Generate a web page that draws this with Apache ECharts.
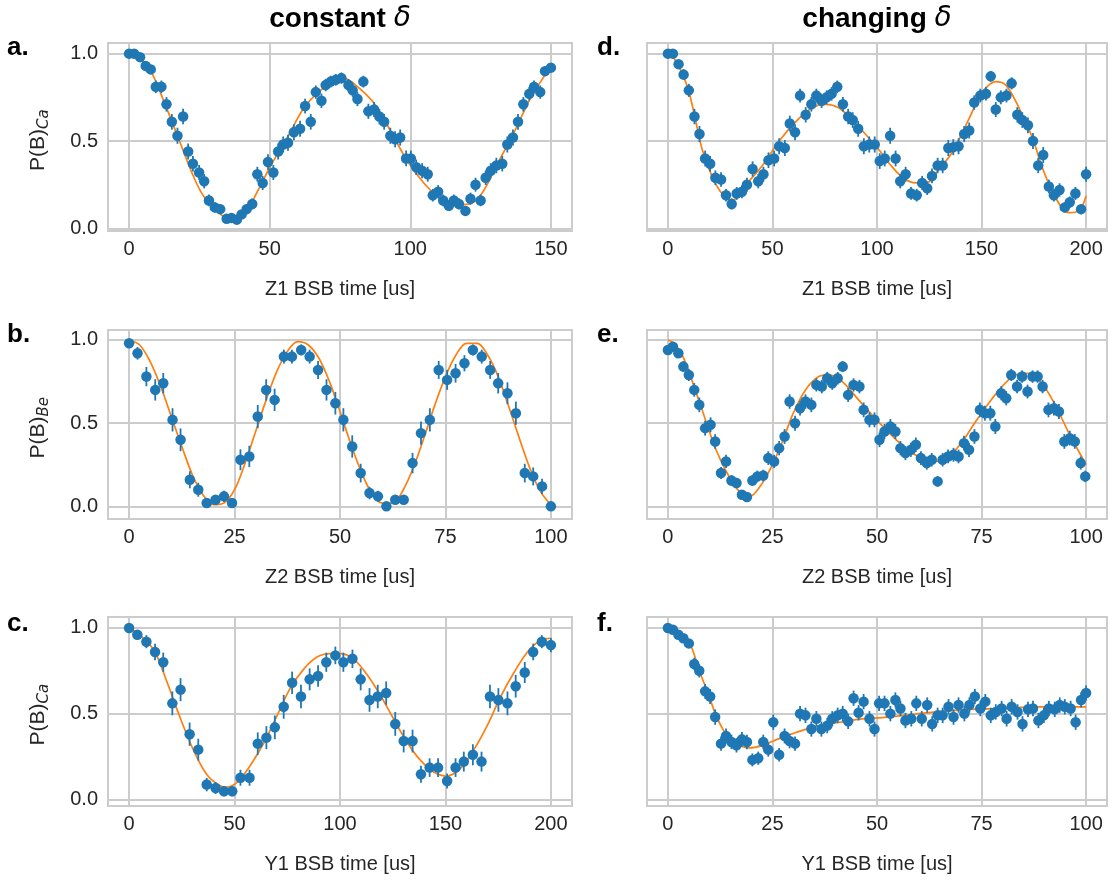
<!DOCTYPE html>
<html><head><meta charset="utf-8">
<script src="https://cdn.jsdelivr.net/npm/echarts@6/dist/echarts.min.js"></script>
<style>html,body{margin:0;padding:0;background:#fff}#c{width:1117px;height:882px}</style>
</head><body><div id="c"></div>
<script>
// ---------- data ----------
const xTicksA = [0, 50, 100, 150];
const xTicksB = [0, 25, 50, 75, 100];
const xTicksC = [0, 50, 100, 150, 200];
const yTicks = [0, 0.5, 1.0];

const aX = [0,1.8,3.9,5.9,7.7,9.5,11.5,13.3,15.2,17.2,19.2,21,22.7,24.9,26.7,28.4,30.5,32.4,34.7,36.4,38.3,40,41.8,43.8,45.6,47.5,49.4,51.3,53,54.8,56.5,58.6,60.8,62.6,64.6,66.4,68.4,69.9,71.7,73.5,75.5,78,79.5,81.2,83.3,85.1,87.1,89,90.7,92.9,94.6,96.4,98.5,100.2,102.1,104.2,106.2,108,109.9,111.7,113.7,115.5,117.3,119.6,121.4,123.2,125,126.8,128.6,130.6,132.7,134.5,136.5,138.3,140.2,142.3,144,146.2,147.9,150];
const aY = [1.0,1.0,0.98,0.93,0.91,0.81,0.81,0.71,0.61,0.53,0.64,0.44,0.37,0.32,0.27,0.16,0.12,0.11,0.055,0.06,0.05,0.08,0.11,0.14,0.31,0.26,0.38,0.32,0.44,0.48,0.49,0.55,0.57,0.70,0.61,0.78,0.73,0.82,0.84,0.85,0.86,0.82,0.79,0.74,0.84,0.67,0.68,0.64,0.61,0.53,0.51,0.52,0.40,0.40,0.35,0.33,0.31,0.19,0.21,0.16,0.13,0.16,0.14,0.10,0.17,0.25,0.16,0.29,0.33,0.36,0.37,0.48,0.52,0.61,0.71,0.77,0.81,0.78,0.90,0.92];
const fitAX = [0,4,7.7,11.3,17.2,23.1,26.7,32.6,36,40.9,45.6,50.4,56.3,62.2,68.1,74.1,76,79.8,86.9,92.9,98.8,104.8,110.7,117,120.2,125,131,136.9,142.9,148.8,150];
const fitAY = [1.0,0.97,0.9,0.77,0.53,0.29,0.18,0.08,0.048,0.08,0.21,0.36,0.52,0.69,0.79,0.85,0.86,0.83,0.72,0.56,0.39,0.26,0.17,0.135,0.137,0.19,0.37,0.55,0.75,0.90,0.93];

const dX = [0,2.4,5.1,7.5,10,12.7,15.1,17.8,20.2,22.7,25.4,27.8,30.5,32.9,35.4,37.8,40.5,43.2,45.7,48.1,50.8,53.2,55.9,58.3,60.8,63.2,65.9,68.6,71,73.5,75.9,78.3,81,83.7,86.2,88.4,91,93.7,96.3,98.9,101.3,103.7,106.3,108.9,111.1,113.7,116.3,119,121.6,124,126.3,129,131.4,134.1,136.5,139,141.7,144.1,146.5,149.4,152.1,154.4,156.8,159.2,161.9,164.4,167.1,169.5,172.2,174.6,177.1,179.5,182.2,184.6,187.3,189.8,192.2,194.9,197.6,200];
const dY = [1.0,1.0,0.94,0.88,0.79,0.64,0.54,0.40,0.37,0.29,0.28,0.19,0.14,0.20,0.21,0.25,0.34,0.27,0.31,0.39,0.40,0.47,0.46,0.60,0.55,0.76,0.65,0.71,0.76,0.73,0.75,0.77,0.81,0.71,0.64,0.62,0.57,0.47,0.48,0.48,0.385,0.40,0.53,0.40,0.27,0.31,0.20,0.19,0.26,0.23,0.30,0.36,0.36,0.46,0.465,0.47,0.54,0.56,0.72,0.76,0.77,0.87,0.68,0.75,0.76,0.83,0.65,0.62,0.59,0.50,0.36,0.42,0.24,0.19,0.22,0.12,0.15,0.20,0.11,0.31];
const fitDX = [0,2.5,5,7.5,10.3,13,16.7,23,27.8,31,37.3,45.2,53.2,61.1,69,75.4,81.7,88.1,94.4,101.6,106,112.4,118.7,123.5,129.8,136.2,144.1,150.5,156.8,161.6,167.9,174.3,179,185.4,191.7,196.5,200];
const fitDY = [1.0,0.98,0.93,0.87,0.77,0.63,0.44,0.25,0.175,0.163,0.25,0.36,0.50,0.61,0.69,0.71,0.69,0.62,0.54,0.44,0.37,0.29,0.26,0.26,0.34,0.44,0.63,0.78,0.84,0.82,0.69,0.52,0.35,0.175,0.09,0.10,0.185];

const bX = [0,2,4.1,6.2,8.1,10.3,12.2,14.4,16.4,18.4,20.5,22.5,24.4,26.4,28.5,30.5,32.5,34.5,36.7,38.6,40.8,42.8,44.8,46.8,48.9,50.8,52.9,54.9,57,59,61,63.1,65.1,67.2,69.2,71.3,73.4,75.4,77.4,79.5,81.5,83.6,85.6,87.5,89.7,91.7,93.8,95.8,97.9,100];
const bY = [0.98,0.92,0.78,0.70,0.74,0.52,0.40,0.16,0.10,0.02,0.04,0.06,0.02,0.28,0.30,0.54,0.70,0.64,0.90,0.90,0.94,0.90,0.82,0.70,0.62,0.52,0.36,0.20,0.08,0.06,0.0,0.04,0.04,0.26,0.44,0.52,0.82,0.76,0.80,0.86,0.94,0.90,0.82,0.74,0.68,0.56,0.20,0.18,0.12,0.0];
const fitBX = [0,2.5,5,7.5,10,12.5,15,17.5,20,22.5,25,27.5,30,32.5,35,37.5,40,42.5,45,47.5,50,52.5,55,57.5,60,62.5,65,67.5,70,72.5,75,77.5,80,82.5,85,87.5,90,92.5,95,97.5,100];
const fitBY = [1.0,0.97,0.87,0.72,0.54,0.36,0.19,0.07,0.01,0.02,0.10,0.26,0.45,0.64,0.81,0.93,0.99,0.97,0.89,0.75,0.57,0.38,0.21,0.08,0.02,0.02,0.10,0.24,0.42,0.61,0.78,0.91,0.98,0.98,0.91,0.78,0.60,0.41,0.23,0.09,0.01];

const eX = [0,1.2,2.5,3.7,5,6.3,7.5,8.9,10.2,11.3,12.7,13.9,15.2,16.4,17.7,18.9,20.2,21.4,22.8,24,25.4,26.6,27.9,29.1,30.4,31.6,32.9,34.3,35.5,36.8,38.1,39.3,40.6,41.8,43.1,44.4,45.8,46.8,48.2,49.4,50.6,51.8,53.2,54.4,55.6,56.8,58.1,59.3,60.5,61.9,63.1,64.5,65.7,67,68.3,69.5,70.8,72,73.3,74.6,75.8,77.1,78.3,79.7,80.9,82.1,83.5,84.7,86,87.2,88.4,89.6,91,92.3,93.5,94.8,96.1,97.3,98.7,99.8];
const eY = [0.94,0.96,0.92,0.84,0.79,0.70,0.61,0.47,0.49,0.39,0.20,0.27,0.155,0.14,0.07,0.056,0.155,0.18,0.185,0.29,0.27,0.35,0.42,0.63,0.50,0.59,0.63,0.61,0.73,0.72,0.77,0.74,0.77,0.84,0.67,0.73,0.72,0.58,0.52,0.52,0.40,0.45,0.48,0.45,0.35,0.32,0.34,0.37,0.29,0.26,0.28,0.15,0.28,0.30,0.31,0.30,0.38,0.34,0.42,0.58,0.56,0.56,0.48,0.68,0.65,0.79,0.72,0.78,0.69,0.78,0.78,0.72,0.58,0.59,0.57,0.39,0.41,0.39,0.26,0.18];
const fitEX = [0,1.5,3.6,7.5,11.5,14.7,17.5,19,21,24.2,27.4,29.8,32.9,36.1,38.5,41.7,45.6,48.8,51.4,54.6,57.8,60.9,64.1,67.2,70.4,73.6,76.7,79.9,83.1,86.2,89.4,92.6,95.7,100];
const fitEY = [1.0,0.98,0.90,0.63,0.34,0.175,0.075,0.056,0.085,0.21,0.39,0.55,0.70,0.78,0.79,0.75,0.64,0.55,0.48,0.40,0.33,0.29,0.27,0.30,0.39,0.51,0.62,0.72,0.79,0.80,0.74,0.61,0.45,0.25];

const cX = [0,3.9,8.2,12.3,16.2,20.5,24.4,28.7,32.8,36.8,41,45,48.9,52.8,57.1,61,65.1,69.1,73.3,77.3,81.5,85.6,89.6,93.5,97.8,101.6,105.9,109.8,114,117.9,121.9,126.2,130.2,134.4,138.4,142.5,146.5,150.8,154.8,158.7,163,167.1,171.1,175.1,179.4,183.3,187.6,191.6,195.7,200];
const cY = [1.0,0.96,0.92,0.86,0.80,0.56,0.64,0.38,0.29,0.086,0.066,0.047,0.047,0.126,0.126,0.325,0.36,0.42,0.54,0.68,0.60,0.70,0.72,0.80,0.84,0.80,0.82,0.70,0.58,0.60,0.62,0.44,0.34,0.34,0.146,0.185,0.185,0.107,0.185,0.22,0.26,0.22,0.60,0.58,0.56,0.66,0.74,0.86,0.92,0.90];
const fitCX = [0,5,11.8,18.1,24.4,30.8,37.1,43.4,46.5,51.3,57.6,63.9,70.2,76.5,82.8,89.1,95.4,100,106.3,112.7,119,125.4,131.7,138,144.4,150.8,157.1,163.5,169.8,176.2,182.5,188.9,195.2,200];
const fitCY = [1.0,0.96,0.87,0.68,0.47,0.28,0.14,0.078,0.072,0.10,0.20,0.33,0.49,0.65,0.76,0.83,0.85,0.85,0.82,0.73,0.61,0.47,0.335,0.23,0.16,0.136,0.18,0.29,0.43,0.60,0.74,0.86,0.93,0.94];

const fX = [0,1.2,2.5,3.7,5,6.3,7.5,8.9,10.1,11.3,12.7,13.9,15.2,16.4,17.7,18.9,20.2,21.6,22.8,24,25.2,26.6,27.9,29.1,30.4,31.6,32.9,34.3,35.5,36.7,38.1,39.3,40.6,41.8,43.1,44.4,45.6,46.8,48.2,49.4,50.5,51.8,53.2,54.4,55.6,56.8,58.2,59.4,60.7,62,63.2,64.5,65.7,67.1,68.3,69.5,70.9,72.1,73.4,74.7,75.9,77.2,78.4,79.8,81,82.2,83.6,84.8,86.1,87.3,88.6,89.9,91.1,92.5,93.7,94.9,96.3,97.5,98.8,100];
const fY = [1.0,0.99,0.96,0.94,0.91,0.79,0.75,0.63,0.60,0.48,0.325,0.37,0.335,0.315,0.35,0.335,0.23,0.24,0.335,0.29,0.45,0.26,0.37,0.34,0.325,0.50,0.49,0.41,0.47,0.41,0.43,0.47,0.49,0.50,0.455,0.59,0.505,0.57,0.47,0.41,0.56,0.56,0.50,0.58,0.53,0.46,0.47,0.56,0.47,0.55,0.44,0.49,0.49,0.54,0.48,0.55,0.50,0.55,0.60,0.53,0.57,0.49,0.51,0.53,0.47,0.54,0.51,0.44,0.525,0.53,0.46,0.49,0.53,0.525,0.55,0.54,0.53,0.45,0.58,0.62];
const fitFX = [0,2.5,5.2,7.5,9.9,11.5,13.9,16.3,19.4,22.6,26.6,30.6,34.5,38.5,42.5,46.4,50.4,56.2,64.1,72,80,87.9,100];
const fitFY = [1.0,0.97,0.91,0.75,0.60,0.49,0.38,0.325,0.30,0.315,0.354,0.39,0.42,0.44,0.455,0.47,0.475,0.49,0.51,0.525,0.53,0.54,0.54];

// ---------- layout ----------
const FONT = "'Liberation Sans', Arial, sans-serif";
const TXT = '#262626';
const GRIDC = '#cccccc';
const BLUE = '#1f77b4', ORANGE = '#ff7f0e';

const rows = [
  {top: 43, height: 188, ymin: -0.015, ymax: 1.061, sub: 'Ca', letterY: 48},
  {top: 330, height: 189, ymin: -0.076, ymax: 1.06, sub: 'Be', letterY: 335},
  {top: 617, height: 189, ymin: -0.039, ymax: 1.064, sub: 'Ca', letterY: 624}
];
const cols = [{left: 108, width: 464}, {left: 647, width: 460}];

const panels = [
  {r:0,c:0,x:aX,y:aY,fx:fitAX,fy:fitAY,xmin:-7.5,xmax:157.5,ticks:xTicksA,name:'Z1 BSB time [us]',err:0.046,letter:'a.'},
  {r:0,c:1,x:dX,y:dY,fx:fitDX,fy:fitDY,xmin:-10,xmax:210,ticks:xTicksC,name:'Z1 BSB time [us]',err:0.046,letter:'d.'},
  {r:1,c:0,x:bX,y:bY,fx:fitBX,fy:fitBY,xmin:-5,xmax:105,ticks:xTicksB,name:'Z2 BSB time [us]',err:0.07,letter:'b.'},
  {r:1,c:1,x:eX,y:eY,fx:fitEX,fy:fitEY,xmin:-5,xmax:105,ticks:xTicksB,name:'Z2 BSB time [us]',err:0.045,letter:'e.'},
  {r:2,c:0,x:cX,y:cY,fx:fitCX,fy:fitCY,xmin:-10,xmax:210,ticks:xTicksC,name:'Y1 BSB time [us]',err:0.07,letter:'c.'},
  {r:2,c:1,x:fX,y:fY,fx:fitFX,fy:fitFY,xmin:-5,xmax:105,ticks:xTicksB,name:'Y1 BSB time [us]',err:0.045,letter:'f.'}
];

const grid = [], xAxis = [], yAxis = [], series = [], graphic = [];
panels.forEach((p, i) => {
  const row = rows[p.r], col = cols[p.c];
  grid.push({left: col.left, top: row.top, width: col.width, height: row.height,
    show: true, borderColor: GRIDC, borderWidth: 2, backgroundColor: '#fff', containLabel: false});
  xAxis.push({type: 'value', gridIndex: i, min: p.xmin, max: p.xmax,
    name: p.name, nameLocation: 'middle', nameGap: 48,
    nameTextStyle: {fontFamily: FONT, fontSize: 20, color: TXT},
    axisLine: {show: false}, axisTick: {show: false, customValues: p.ticks},
    axisLabel: {customValues: p.ticks, fontFamily: FONT, fontSize: 20, color: TXT, margin: 8},
    splitLine: {show: true, lineStyle: {color: GRIDC, width: 2}}});
  yAxis.push({type: 'value', gridIndex: i, min: row.ymin, max: row.ymax,
    axisLine: {show: false}, axisTick: {show: false, customValues: yTicks},
    axisLabel: {show: p.c === 0, customValues: yTicks, fontFamily: FONT, fontSize: 20, color: TXT, margin: 10,
      formatter: v => v.toFixed(1)},
    splitLine: {show: true, lineStyle: {color: GRIDC, width: 2}}});
  const pts = p.x.map((xv, k) => [xv, p.y[k]]);
  const errMax = p.err;
  series.push({type: 'line', xAxisIndex: i, yAxisIndex: i, data: p.fx.map((xv, k) => [xv, p.fy[k]]),
    showSymbol: false, smooth: 0.35, lineStyle: {color: ORANGE, width: 1.7}, z: 2, silent: true, animation: false});
  series.push({type: 'custom', xAxisIndex: i, yAxisIndex: i, data: pts, z: 3, animation: false, silent: true,
    renderItem: (params, api) => {
      const xv = api.value(0), yv = api.value(1);
      const e = errMax * 2 * Math.sqrt(Math.max(0, yv * (1 - yv)));
      const p1 = api.coord([xv, yv - e]), p2 = api.coord([xv, yv + e]);
      return {type: 'line', shape: {x1: p1[0], y1: p1[1], x2: p2[0], y2: p2[1]},
        style: {stroke: BLUE, lineWidth: 1.8}};
    }});
  series.push({type: 'scatter', xAxisIndex: i, yAxisIndex: i, data: pts, symbol: 'circle', symbolSize: 10.5,
    itemStyle: {color: BLUE, opacity: 1}, z: 4, animation: false, silent: true});
  // panel letter
  graphic.push({type: 'text', x: p.c === 0 ? 7 : 597, y: row.letterY,
    style: {text: p.letter, fontFamily: FONT, fontSize: 26, fontWeight: 'bold', fill: '#000', verticalAlign: 'middle', align: 'left'}});
});

// y-axis labels P(B)_Ca / P(B)_Be
rows.forEach(row => {
  graphic.push({type: 'group', x: 38, y: row.top + row.height / 2 + 3, rotation: Math.PI / 2,
    children: [
      {type: 'text', x: -31, y: 0, style: {text: 'P(B)', fontFamily: FONT, fontSize: 21, fill: TXT, align: 'left', verticalAlign: 'middle'}},
      {type: 'text', x: 11, y: 6, style: {text: row.sub, fontFamily: "'DejaVu Sans', sans-serif", fontStyle: 'italic', fontSize: 15, fill: TXT, align: 'left', verticalAlign: 'middle'}}
    ]});
});

// column titles
[['constant ', 340], ['changing ', 877]].forEach(([t, cx]) => {
  graphic.push({type: 'text', x: cx, y: 19,
    style: {text: '{b|' + t + '}{i|δ}', align: 'center', verticalAlign: 'middle', fill: '#000',
      rich: {b: {fontFamily: FONT, fontSize: 28, fontWeight: 'bold', fill: '#000'},
             i: {fontFamily: "'DejaVu Sans', sans-serif", fontSize: 28, fontStyle: 'italic', fill: '#000'}}}});
});

const chart = echarts.init(document.getElementById('c'), null, {renderer: 'canvas'});
chart.setOption({animation: false, backgroundColor: '#ffffff', grid, xAxis, yAxis, series, graphic});
</script></body></html>
